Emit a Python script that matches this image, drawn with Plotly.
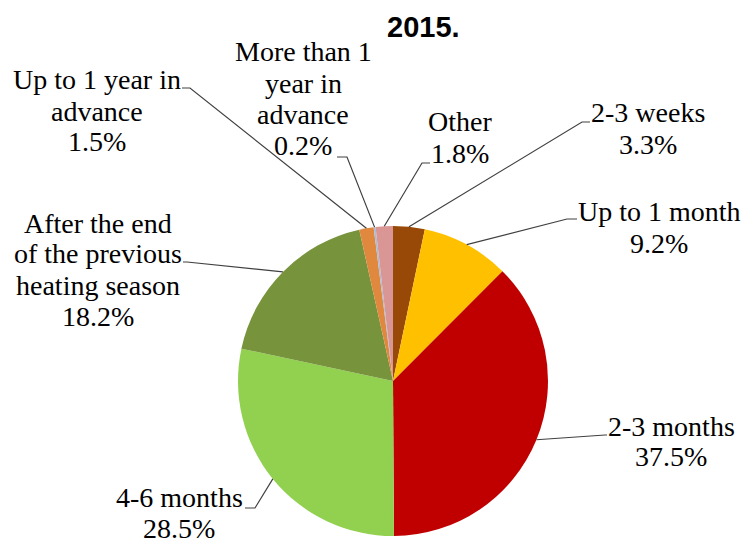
import math
import plotly.graph_objects as go

# ---- data ----
categories = [
    "2-3 weeks",
    "Up to 1 month",
    "2-3 months",
    "4-6 months",
    "After the end\nof the previous\nheating season",
    "Up to 1 year in\nadvance",
    "More than 1\nyear in\nadvance",
    "Other",
]
values = [3.3, 9.2, 37.5, 28.5, 18.2, 1.5, 0.2, 1.8]
title_text = "2015."

# ---- styles ----
colors = ["#984807", "#FFC000", "#C00000", "#92D050", "#77933C",
          "#E0883E", "#A9BCD8", "#D99694"]

W, H = 744, 547
CX, CY, R = 393, 381, 155  # pie centre/radius in pixels

# label layout: first-line centre (px), elbow point, horizontal end
label_layout = [
    dict(x=648, y=113, elbow=(582, 122), end=(590, 122)),
    dict(x=659, y=212, elbow=(567, 219), end=(577, 219)),
    dict(x=671, y=426, elbow=(605, 435), end=(607, 435)),
    dict(x=179, y=497, elbow=(255, 508), end=(245, 508)),
    dict(x=98, y=223, elbow=(187, 262), end=(183, 262)),
    dict(x=97, y=80, elbow=(190, 88), end=(182, 88)),
    dict(x=303, y=52, elbow=(347, 157), end=(337, 157)),
    dict(x=460, y=122, elbow=(422, 163), end=(430, 163)),
]
LINE_GAP = 31
FONT = "Liberation Serif, Times New Roman, serif"


def px(x):
    return x / W


def py(y):
    return 1 - y / H


fig = go.Figure(go.Pie(
    labels=[c.replace("\n", " ") for c in categories],
    values=values,
    sort=False,
    direction="clockwise",
    rotation=0,
    marker=dict(colors=colors, line=dict(width=0)),
    textinfo="none",
    hoverinfo="label+percent",
    showlegend=False,
    domain=dict(x=[px(CX - R), px(CX + R)], y=[py(CY + R), py(CY - R)]),
))

annotations = []
shapes = []
total = sum(values)
cum = 0.0
for cat, v, lay in zip(categories, values, label_layout):
    mid = (cum + v / 2) / total * 2 * math.pi
    cum += v
    ex = CX + R * math.sin(mid)
    ey = CY - R * math.cos(mid)
    lines = cat.split("\n") + [f"{v:.1f}%"]
    for i, t in enumerate(lines):
        annotations.append(dict(
            x=px(lay["x"]), y=py(lay["y"] + i * LINE_GAP),
            xref="paper", yref="paper", text=t, showarrow=False,
            xanchor="center", yanchor="middle",
            font=dict(family=FONT, size=28, color="black"),
        ))
    (bx, by), (hx, hy) = lay["elbow"], lay["end"]
    shapes.append(dict(
        type="path", xref="paper", yref="paper",
        path=f"M {px(ex)} {py(ey)} L {px(bx)} {py(by)} L {px(hx)} {py(hy)}",
        line=dict(color="#404040", width=1.2),
    ))

annotations.append(dict(
    x=px(423), y=py(27), xref="paper", yref="paper", text=f"<b>{title_text}</b>",
    showarrow=False, xanchor="center", yanchor="middle",
    font=dict(family="Liberation Sans, Arial, sans-serif", size=29, color="black"),
))

fig.update_layout(
    width=W, height=H,
    margin=dict(l=0, r=0, t=0, b=0),
    paper_bgcolor="white", plot_bgcolor="white",
    annotations=annotations, shapes=shapes,
)

fig.write_html(
    "out.html",
    config=dict(displayModeBar=False),
    post_script="document.body.style.margin='0';document.body.style.overflow='hidden';",
)
